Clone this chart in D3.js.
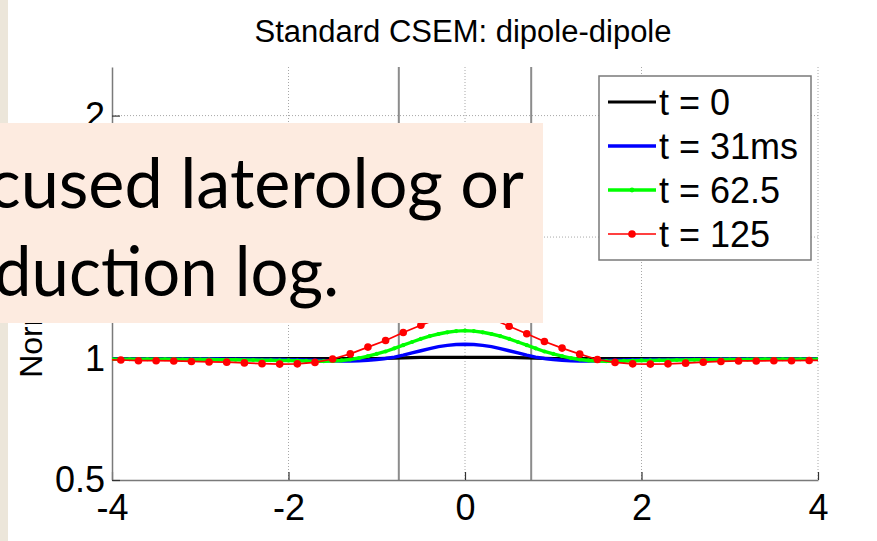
<!DOCTYPE html>
<html>
<head>
<meta charset="utf-8">
<script src="https://cdn.jsdelivr.net/npm/d3@7"></script>
<style>
  html, body { margin: 0; padding: 0; background: #ffffff; }
  svg { display: block; }
</style>
</head>
<body>
<svg id="chart" width="877" height="541"></svg>
<script>
// ---- chart content ----
const titleText = "Standard CSEM: dipole-dipole";
const yLabelText = "Normalized |E|";
const xTicks = [-4, -2, 0, 2, 4];
const yTicks = [0.5, 1, 1.5, 2];
const xGridTicks = [-2, 0, 2, 4];
const yGridTicks = [1, 1.5, 2];
const xDomain = [-4, 4];
const yDomain = [0.5, 2.2];
const layerEdges = [-0.75, 0.75];
const seriesNames = ["t = 0", "t = 31ms", "t = 62.5", "t = 125"];
const seriesColors = ["#000000", "#0000ff", "#00ff00", "#ff0000"];
const noteLines = ["cused laterolog or", "duction log."];

// sampling positions (offset, km)
const xFine = d3.range(-40, 41).map(i => i / 10);          // -4.0 .. 4.0 step 0.1
const xCoarse = d3.range(-41, 42, 2).map(i => i / 10);     // -4.1 .. 4.1 step 0.2

// t = 0
const yT0 = [
  1.000, 1.000, 1.000, 1.000, 1.000, 1.000, 1.000, 1.000, 1.000, 1.000,
  1.000, 1.000, 1.000, 1.000, 1.000, 1.000, 1.000, 1.000, 1.000, 1.000,
  1.000, 1.000, 1.000, 1.000, 1.000, 1.000, 1.000, 1.000, 1.000, 1.000,
  1.000, 1.001, 1.002, 1.003, 1.004, 1.005, 1.005, 1.005, 1.005, 1.005,
  1.005,
  1.005, 1.005, 1.005, 1.005, 1.005, 1.004, 1.003, 1.002, 1.001, 1.000,
  1.000, 1.000, 1.000, 1.000, 1.000, 1.000, 1.000, 1.000, 1.000, 1.000,
  1.000, 1.000, 1.000, 1.000, 1.000, 1.000, 1.000, 1.000, 1.000, 1.000,
  1.000, 1.000, 1.000, 1.000, 1.000, 1.000, 1.000, 1.000, 1.000, 1.000
];
// t = 31 ms
const yT31 = [
  0.998, 0.998, 0.998, 0.998, 0.998, 0.998, 0.998, 0.998, 0.998, 0.998,
  0.998, 0.998, 0.998, 0.997, 0.997, 0.997, 0.997, 0.996, 0.996, 0.996,
  0.995, 0.995, 0.994, 0.993, 0.992, 0.991, 0.990, 0.990, 0.991, 0.993,
  0.996, 1.000, 1.006, 1.014, 1.023, 1.032, 1.041, 1.049, 1.054, 1.058,
  1.059,
  1.058, 1.054, 1.049, 1.041, 1.032, 1.023, 1.014, 1.006, 1.000, 0.996,
  0.993, 0.991, 0.990, 0.990, 0.991, 0.992, 0.993, 0.994, 0.995, 0.995,
  0.996, 0.996, 0.996, 0.997, 0.997, 0.997, 0.997, 0.998, 0.998, 0.998,
  0.998, 0.998, 0.998, 0.998, 0.998, 0.998, 0.998, 0.998, 0.998, 0.998
];
// t = 62.5
const yT62 = [
  0.997, 0.997, 0.997, 0.997, 0.997, 0.997, 0.997, 0.997, 0.996, 0.996,
  0.996, 0.996, 0.995, 0.995, 0.995, 0.994, 0.994, 0.993, 0.993, 0.992,
  0.992, 0.991, 0.990, 0.989, 0.989, 0.990, 0.992, 0.996, 1.002, 1.010,
  1.019, 1.029, 1.042, 1.055, 1.068, 1.081, 1.092, 1.101, 1.108, 1.113,
  1.115,
  1.113, 1.108, 1.101, 1.092, 1.081, 1.068, 1.055, 1.042, 1.029, 1.019,
  1.010, 1.002, 0.996, 0.992, 0.990, 0.989, 0.989, 0.990, 0.991, 0.992,
  0.992, 0.993, 0.993, 0.994, 0.994, 0.995, 0.995, 0.995, 0.996, 0.996,
  0.996, 0.996, 0.997, 0.997, 0.997, 0.997, 0.997, 0.997, 0.997, 0.997
];
// t = 125
const yT125 = [
  0.995,
  0.994, 0.991, 0.991, 0.990, 0.988, 0.986, 0.985, 0.982, 0.979, 0.977,
  0.978, 0.984, 0.998, 1.019, 1.047, 1.074, 1.107, 1.137, 1.165, 1.180,
  1.180, 1.165, 1.133, 1.102, 1.070, 1.043, 1.018, 0.996, 0.984, 0.978,
  0.977, 0.978, 0.981, 0.985, 0.988, 0.990, 0.990, 0.991, 0.991, 0.992,
  0.993
];

// ---- layout ----
const W = 877, H = 541;
const plot = { left: 112, right: 818, top: 67, bottom: 480 };
const svg = d3.select("#chart");

const x = d3.scaleLinear().domain(xDomain).range([plot.left, plot.right]);
const y = d3.scaleLinear().domain(yDomain).range([plot.bottom, plot.top]);

// page background with a stone strip on the left edge
svg.append("rect").attr("width", W).attr("height", H).attr("fill", "#ffffff");
svg.append("rect").attr("x", 0).attr("y", 0).attr("width", 8).attr("height", H).attr("fill", "#ece6da");

// title
svg.append("text")
  .attr("x", 463).attr("y", 42)
  .attr("text-anchor", "middle")
  .attr("font-family", "Arial, 'Liberation Sans', sans-serif")
  .attr("font-size", 31)
  .attr("fill", "#000")
  .text(titleText);

// grid
const grid = svg.append("g").attr("stroke", "#a8a8a8").attr("stroke-width", 1).attr("stroke-dasharray", "1,2");
grid.selectAll("line.gx").data(xGridTicks).join("line")
  .attr("x1", d => x(d)).attr("x2", d => x(d))
  .attr("y1", plot.top).attr("y2", plot.bottom);
grid.selectAll("line.gy").data(yGridTicks).join("line")
  .attr("x1", plot.left).attr("x2", plot.right)
  .attr("y1", d => y(d)).attr("y2", d => y(d));

// layer boundaries
svg.append("g").selectAll("line").data(layerEdges).join("line")
  .attr("x1", d => x(d)).attr("x2", d => x(d))
  .attr("y1", plot.top).attr("y2", plot.bottom)
  .attr("stroke", "#8c8c8c").attr("stroke-width", 2);

// axes
const axisFont = "Arial, 'Liberation Sans', sans-serif";
const gx = svg.append("g").attr("transform", `translate(0,${plot.bottom})`)
  .call(d3.axisBottom(x).tickValues(xTicks).tickSizeInner(-8).tickSizeOuter(0).tickPadding(14)
    .tickFormat(d3.format("")));
const gy = svg.append("g").attr("transform", `translate(${plot.left},0)`)
  .call(d3.axisLeft(y).tickValues(yTicks).tickSizeInner(-8).tickSizeOuter(0).tickPadding(7)
    .tickFormat(d => d3.format("")(d)));
[gx, gy].forEach(g => {
  g.select(".domain").attr("stroke", "#7a7a7a").attr("stroke-width", 1.5);
  g.selectAll(".tick line").attr("stroke", "#333").attr("stroke-width", 1.2);
  g.selectAll(".tick text").attr("font-family", axisFont).attr("font-size", 36).attr("fill", "#000");
});
gx.selectAll(".tick text").text(d => d < 0 ? "-" + Math.abs(d) : String(d));

// y label
svg.append("text")
  .attr("transform", `translate(42,${(plot.top + plot.bottom) / 2}) rotate(-90)`)
  .attr("text-anchor", "middle")
  .attr("font-family", axisFont)
  .attr("font-size", 32)
  .attr("fill", "#000")
  .text(yLabelText);

// curves
svg.append("defs").append("clipPath").attr("id", "plotClip")
  .append("rect").attr("x", plot.left).attr("y", plot.top)
  .attr("width", plot.right - plot.left).attr("height", plot.bottom - plot.top);
const curves = svg.append("g").attr("clip-path", "url(#plotClip)");
const line = d3.line().x(d => x(d[0])).y(d => y(d[1]));

const sT0 = xFine.map((v, i) => [v, yT0[i]]);
const sT31 = xFine.map((v, i) => [v, yT31[i]]);
const sT62 = xFine.map((v, i) => [v, yT62[i]]);
const sT125 = xCoarse.map((v, i) => [v, yT125[i]]);

curves.append("path").datum(sT0).attr("d", line).attr("fill", "none")
  .attr("stroke", seriesColors[0]).attr("stroke-width", 3.2);
curves.append("path").datum(sT31).attr("d", line).attr("fill", "none")
  .attr("stroke", seriesColors[1]).attr("stroke-width", 3.4);
curves.append("path").datum(sT62).attr("d", line).attr("fill", "none")
  .attr("stroke", seriesColors[2]).attr("stroke-width", 3.4);
curves.append("g").selectAll("circle").data(sT62).join("circle")
  .attr("cx", d => x(d[0])).attr("cy", d => y(d[1])).attr("r", 2.1).attr("fill", seriesColors[2]);
curves.append("path").datum(sT125).attr("d", line).attr("fill", "none")
  .attr("stroke", seriesColors[3]).attr("stroke-width", 1.7);
curves.append("g").selectAll("circle").data(sT125).join("circle")
  .attr("cx", d => x(d[0])).attr("cy", d => y(d[1])).attr("r", 3.8).attr("fill", seriesColors[3]);

// legend
const lg = svg.append("g");
lg.append("rect").attr("x", 599).attr("y", 76).attr("width", 212).attr("height", 184)
  .attr("fill", "#fff").attr("stroke", "#7a7a7a").attr("stroke-width", 1.5);
const rowY = i => 102 + i * 44;
const lineW = [3.2, 3.4, 3.4, 1.7];
seriesNames.forEach((name, i) => {
  lg.append("line").attr("x1", 608).attr("x2", 656).attr("y1", rowY(i)).attr("y2", rowY(i))
    .attr("stroke", seriesColors[i]).attr("stroke-width", lineW[i]);
  if (i === 2) lg.append("circle").attr("cx", 632).attr("cy", rowY(i)).attr("r", 2.4).attr("fill", seriesColors[i]);
  if (i === 3) lg.append("circle").attr("cx", 632).attr("cy", rowY(i)).attr("r", 3.8).attr("fill", seriesColors[i]);
  lg.append("text").attr("x", 659).attr("y", rowY(i)).attr("dy", "0.35em")
    .attr("font-family", axisFont).attr("font-size", 36).attr("fill", "#000")
    .text(name);
});

// slide note box laid over the plot
const note = svg.append("g");
note.append("rect").attr("x", 0).attr("y", 123).attr("width", 543).attr("height", 200).attr("fill", "#fdebe0");
note.append("text").attr("x", -12).attr("y", 208)
  .attr("font-family", "Lato, 'Open Sans', sans-serif").attr("font-size", 69).attr("fill", "#000")
  .attr("textLength", 536).attr("lengthAdjust", "spacingAndGlyphs")
  .text(noteLines[0]);
note.append("text").attr("x", -6).attr("y", 296)
  .attr("font-family", "Lato, 'Open Sans', sans-serif").attr("font-size", 69).attr("fill", "#000")
  .attr("textLength", 345).attr("lengthAdjust", "spacingAndGlyphs")
  .text(noteLines[1]);
</script>
</body>
</html>
